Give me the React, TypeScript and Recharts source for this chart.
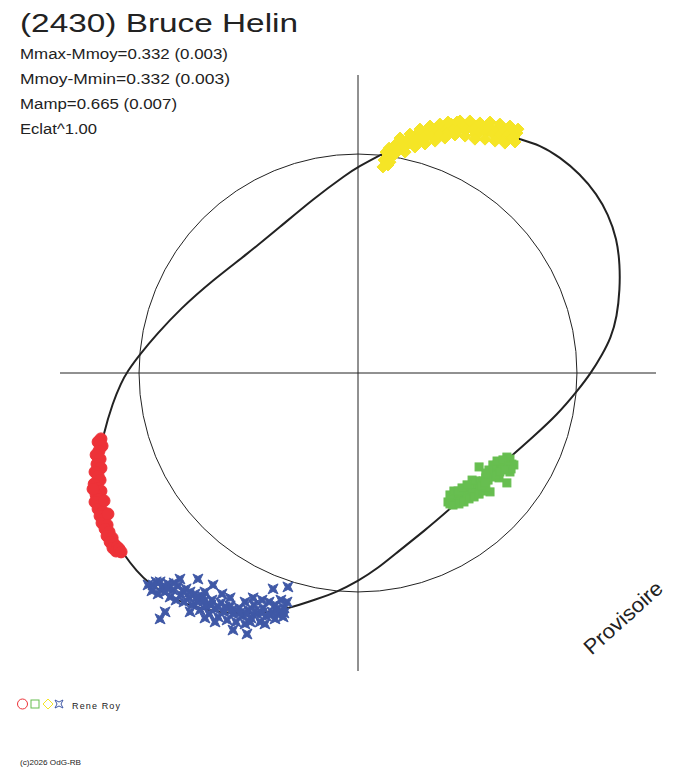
import React from "react";
import * as R from "recharts";

const { ScatterChart, Scatter, XAxis, YAxis, ReferenceLine } = R;

// fitted light curve in polar form, x/y in units of the mean-magnitude circle (closed loop)
const fitCurve: [number, number][] = [
  [0.0, 0.941], [0.1, 0.995], [0.237, 1.064], [0.434, 1.11], [0.543, 1.1],
  [0.648, 1.096], [0.74, 1.068], [0.831, 1.041], [0.922, 0.986], [1.014, 0.909],
  [1.091, 0.817], [1.142, 0.726], [1.183, 0.612], [1.196, 0.493], [1.196, 0.384],
  [1.183, 0.256], [1.155, 0.160], [1.114, 0.082], [1.064, 0.0], [1.005, -0.078],
  [0.909, -0.192], [0.799, -0.292], [0.708, -0.374], [0.557, -0.498], [0.42, -0.621],
  [0.297, -0.726], [0.192, -0.808], [0.087, -0.895], [0.0, -0.95], [-0.096, -1.0],
  [-0.187, -1.032], [-0.324, -1.078], [-0.434, -1.096], [-0.571, -1.1], [-0.689, -1.082],
  [-0.781, -1.059], [-0.895, -1.0], [-0.95, -0.963], [-1.009, -0.909], [-1.078, -0.817],
  [-1.119, -0.749], [-1.155, -0.662], [-1.187, -0.543], [-1.187, -0.406], [-1.164, -0.283],
  [-1.119, -0.132], [-1.082, -0.046], [-1.055, 0.005], [-0.995, 0.087], [-0.918, 0.178],
  [-0.813, 0.292], [-0.662, 0.425], [-0.507, 0.543], [-0.356, 0.667], [-0.205, 0.795],
  [-0.05, 0.909],
];

const redSession: [number, number][] = [
  [-1.174, -0.301], [-1.187, -0.315], [-1.169, -0.333], [-1.183, -0.356], [-1.196, -0.374],
  [-1.178, -0.393], [-1.192, -0.416], [-1.174, -0.434], [-1.201, -0.452], [-1.187, -0.47],
  [-1.178, -0.489], [-1.205, -0.507], [-1.192, -0.525], [-1.174, -0.539], [-1.196, -0.557],
  [-1.183, -0.575], [-1.201, -0.589], [-1.178, -0.603], [-1.187, -0.621], [-1.164, -0.635],
  [-1.178, -0.653], [-1.16, -0.667], [-1.169, -0.685], [-1.146, -0.694], [-1.155, -0.712],
  [-1.137, -0.726], [-1.146, -0.744], [-1.123, -0.753], [-1.132, -0.772], [-1.114, -0.781],
  [-1.119, -0.799], [-1.1, -0.795], [-1.105, -0.813], [-1.091, -0.804], [-1.082, -0.817],
  [-1.142, -0.644], [-1.21, -0.53], [-1.16, -0.584],
];

const greenSession: [number, number][] = [
  [0.411, -0.589], [0.429, -0.575], [0.42, -0.598], [0.443, -0.566], [0.452, -0.584],
  [0.466, -0.562], [0.475, -0.575], [0.457, -0.548], [0.489, -0.543], [0.498, -0.562],
  [0.511, -0.534], [0.507, -0.521], [0.525, -0.525], [0.534, -0.511], [0.521, -0.548],
  [0.548, -0.507], [0.557, -0.525], [0.539, -0.493], [0.571, -0.493], [0.584, -0.479],
  [0.603, -0.466], [0.594, -0.489], [0.616, -0.457], [0.626, -0.443], [0.612, -0.475],
  [0.639, -0.447], [0.648, -0.429], [0.635, -0.42], [0.662, -0.416], [0.671, -0.402],
  [0.658, -0.434], [0.685, -0.406], [0.694, -0.393], [0.68, -0.384], [0.703, -0.416],
  [0.712, -0.42], [0.553, -0.429], [0.68, -0.502], [0.603, -0.543], [0.521, -0.489],
  [0.694, -0.452], [0.644, -0.479], [0.42, -0.557], [0.438, -0.539], [0.457, -0.539],
  [0.475, -0.525], [0.498, -0.511], [0.434, -0.603], [0.461, -0.598], [0.484, -0.589],
  [0.507, -0.575], [0.53, -0.566], [0.553, -0.553], [0.571, -0.539], [0.584, -0.525],
  [0.566, -0.516], [0.58, -0.502], [0.616, -0.42], [0.635, -0.402], [0.662, -0.397],
  [0.689, -0.425], [0.699, -0.438], [0.63, -0.466], [0.648, -0.452], [0.671, -0.443],
  [0.598, -0.443], [0.584, -0.457],
];

const yellowSession: [number, number][] = [
  [0.119, 0.973], [0.128, 1.009], [0.142, 1.027], [0.155, 0.995], [0.169, 1.041],
  [0.183, 1.018], [0.201, 1.055], [0.215, 1.032], [0.228, 1.068], [0.247, 1.05],
  [0.26, 1.082], [0.274, 1.059], [0.292, 1.096], [0.306, 1.073], [0.32, 1.105],
  [0.338, 1.082], [0.356, 1.114], [0.374, 1.091], [0.393, 1.119], [0.411, 1.1],
  [0.425, 1.137], [0.438, 1.114], [0.452, 1.146], [0.466, 1.119], [0.479, 1.132],
  [0.493, 1.11], [0.507, 1.137], [0.521, 1.114], [0.539, 1.128], [0.553, 1.1],
  [0.571, 1.123], [0.584, 1.1], [0.603, 1.119], [0.616, 1.091], [0.635, 1.114],
  [0.648, 1.087], [0.667, 1.11], [0.68, 1.082], [0.699, 1.105], [0.712, 1.078],
  [0.726, 1.096], [0.114, 0.941], [0.146, 0.963], [0.539, 1.087], [0.671, 1.059],
  [0.169, 1.0], [0.215, 1.009], [0.26, 1.032], [0.306, 1.046], [0.352, 1.059],
  [0.397, 1.073], [0.443, 1.087], [0.489, 1.082], [0.534, 1.068], [0.58, 1.068],
  [0.626, 1.059], [0.671, 1.05], [0.717, 1.055], [0.137, 0.95], [0.192, 1.073],
  [0.237, 1.091], [0.283, 1.114], [0.329, 1.128], [0.374, 1.137], [0.411, 1.146],
  [0.466, 1.151], [0.511, 1.151], [0.557, 1.142], [0.603, 1.146], [0.648, 1.137],
  [0.694, 1.128], [0.731, 1.114],
];

const blueSession: [number, number][] = [
  [-0.959, -0.968], [-0.941, -0.995], [-0.922, -0.954], [-0.913, -1.009], [-0.895, -0.977],
  [-0.881, -1.0], [-0.868, -0.963], [-0.858, -1.023], [-0.845, -0.991], [-0.831, -1.037],
  [-0.822, -0.973], [-0.808, -1.014], [-0.795, -1.046], [-0.785, -0.986], [-0.772, -1.027],
  [-0.758, -1.059], [-0.744, -1.009], [-0.731, -1.046], [-0.721, -1.082], [-0.708, -1.023],
  [-0.694, -1.064], [-0.68, -1.1], [-0.667, -1.037], [-0.653, -1.078], [-0.639, -1.114],
  [-0.626, -1.05], [-0.612, -1.091], [-0.598, -1.128], [-0.584, -1.064], [-0.571, -1.1],
  [-0.557, -1.137], [-0.543, -1.073], [-0.53, -1.11], [-0.516, -1.146], [-0.502, -1.082],
  [-0.489, -1.119], [-0.475, -1.059], [-0.461, -1.1], [-0.447, -1.137], [-0.434, -1.073],
  [-0.42, -1.11], [-0.406, -1.046], [-0.393, -1.091], [-0.379, -1.059], [-0.365, -1.1],
  [-0.352, -1.037], [-0.338, -1.073], [-0.324, -1.046], [-0.904, -1.123], [-0.881, -1.091],
  [-0.571, -1.174], [-0.507, -1.192], [-0.731, -0.941], [-0.813, -0.941], [-0.662, -0.968],
  [-0.388, -0.986], [-0.32, -0.977], [-0.479, -1.027], [-0.621, -1.009], [-0.936, -0.968],
  [-0.904, -0.954], [-0.872, -0.982], [-0.84, -0.959], [-0.799, -0.995], [-0.767, -1.0],
  [-0.735, -1.023], [-0.703, -1.041], [-0.671, -1.059], [-0.639, -1.068], [-0.607, -1.068],
  [-0.575, -1.082], [-0.539, -1.096], [-0.507, -1.1], [-0.47, -1.087], [-0.438, -1.096],
  [-0.402, -1.105], [-0.37, -1.078], [-0.338, -1.096], [-0.767, -1.091], [-0.699, -1.119],
  [-0.653, -1.137], [-0.493, -1.137], [-0.425, -1.146], [-0.379, -1.123], [-0.342, -1.114],
  [-0.699, -1.0], [-0.584, -1.027], [-0.516, -1.046], [-0.438, -1.037],
];

const title = "(2430) Bruce Helin";
const statLines = [
  "Mmax-Mmoy=0.332 (0.003)",
  "Mmoy-Mmin=0.332 (0.003)",
  "Mamp=0.665 (0.007)",
  "Eclat^1.00",
];
const observer = "Rene Roy";

const W = 688;
const H = 768;
const MARGIN = { top: 75, left: 60, right: 32, bottom: 97 };
const SPAN = 1.361;
const FONT = "'Liberation Sans', Arial, sans-serif";
const INK = "#222";
const RED = "#ed3238";
const GREEN = "#67be50";
const YELLOW = "#f5e526";
const BLUE = "#3f58a6";

const toPoints = (arr: [number, number][]) => arr.map(([x, y]) => ({ x, y }));

function UnitCircle() {
  const hook = (R as any).usePlotArea;
  const area = hook ? hook() : null;
  const box = area ?? {
    x: MARGIN.left,
    y: MARGIN.top,
    width: W - MARGIN.left - MARGIN.right,
    height: H - MARGIN.top - MARGIN.bottom,
  };
  const r = box.width / (2 * SPAN);
  return (
    <circle
      cx={box.x + box.width / 2}
      cy={box.y + box.height / 2}
      r={r}
      fill="none"
      stroke={INK}
      strokeWidth={1}
    />
  );
}

const Ring = (p: any) => (
  <circle cx={p.cx} cy={p.cy} r={6} fill={RED} stroke={RED} strokeWidth={1} />
);
const Box = (p: any) => (
  <rect x={p.cx - 4} y={p.cy - 4} width={8} height={8} fill={GREEN} stroke={GREEN} strokeWidth={1} />
);
const Diamond = (p: any) => (
  <polygon
    points={`${p.cx},${p.cy - 6} ${p.cx + 6},${p.cy} ${p.cx},${p.cy + 6} ${p.cx - 6},${p.cy}`}
    fill={YELLOW}
    stroke={YELLOW}
    strokeWidth={1}
  />
);
const starPath = (cx: number, cy: number, s: number) =>
  `M${cx - s},${cy - s} L${cx},${cy - s / 2} L${cx + s},${cy - s} L${cx + s / 2},${cy} ` +
  `L${cx + s},${cy + s} L${cx},${cy + s / 2} L${cx - s},${cy + s} L${cx - s / 2},${cy} Z`;
const Star = (p: any) => (
  <path d={starPath(p.cx, p.cy, 5)} fill={BLUE} stroke={BLUE} strokeWidth={1} />
);
const NoDot = () => <g />;

export default function App() {
  return (
    <div style={{ position: "absolute", left: 0, top: 0, width: W, height: H, background: "#fff" }}>
      <div style={{ position: "absolute", left: 0, top: 0 }}>
        <ScatterChart width={W} height={H} margin={MARGIN}>
          <XAxis type="number" dataKey="x" domain={[-SPAN, SPAN]} allowDataOverflow hide />
          <YAxis type="number" dataKey="y" domain={[-SPAN, SPAN]} allowDataOverflow hide />
          <UnitCircle />
          <ReferenceLine x={0} stroke={INK} strokeWidth={1} />
          <ReferenceLine y={0} stroke={INK} strokeWidth={1} />
          <Scatter
            data={toPoints(fitCurve)}
            line={{ stroke: INK, strokeWidth: 2 }}
            lineJointType="basisClosed"
            shape={NoDot}
            isAnimationActive={false}
          />
          <Scatter data={toPoints(redSession)} shape={Ring} isAnimationActive={false} />
          <Scatter data={toPoints(greenSession)} shape={Box} isAnimationActive={false} />
          <Scatter data={toPoints(yellowSession)} shape={Diamond} isAnimationActive={false} />
          <Scatter data={toPoints(blueSession)} shape={Star} isAnimationActive={false} />
        </ScatterChart>
      </div>
      <svg
        width={W}
        height={H}
        style={{ position: "absolute", left: 0, top: 0, pointerEvents: "none" }}
        fontFamily={FONT}
        fill={INK}
      >
        <text x={20} y={32} fontSize={25} textLength={278} lengthAdjust="spacingAndGlyphs">
          {title}
        </text>
        <text x={20} y={59} fontSize={14} textLength={208} lengthAdjust="spacingAndGlyphs">
          {statLines[0]}
        </text>
        <text x={20} y={84} fontSize={14} textLength={210} lengthAdjust="spacingAndGlyphs">
          {statLines[1]}
        </text>
        <text x={20} y={109} fontSize={14} textLength={157} lengthAdjust="spacingAndGlyphs">
          {statLines[2]}
        </text>
        <text x={20} y={134} fontSize={14} textLength={77} lengthAdjust="spacingAndGlyphs">
          {statLines[3]}
        </text>
        <text
          x={628}
          y={623}
          fontSize={21}
          textAnchor="middle"
          textLength={98}
          lengthAdjust="spacingAndGlyphs"
          transform="rotate(-42 628 623)"
        >
          Provisoire
        </text>
        <circle cx={22.5} cy={704} r={5} fill="none" stroke={RED} />
        <rect x={31} y={700} width={8} height={8} fill="none" stroke={GREEN} />
        <polygon points="48,699 53,704 48,709 43,704" fill="none" stroke={YELLOW} />
        <path d={starPath(59, 704, 4)} fill="none" stroke={BLUE} />
        <text x={72} y={709} fontSize={9} textLength={48} lengthAdjust="spacing">
          {observer}
        </text>
        <text x={20} y={765} fontSize={8} textLength={61} lengthAdjust="spacingAndGlyphs">
          (c)2026 OdG-RB
        </text>
      </svg>
    </div>
  );
}
